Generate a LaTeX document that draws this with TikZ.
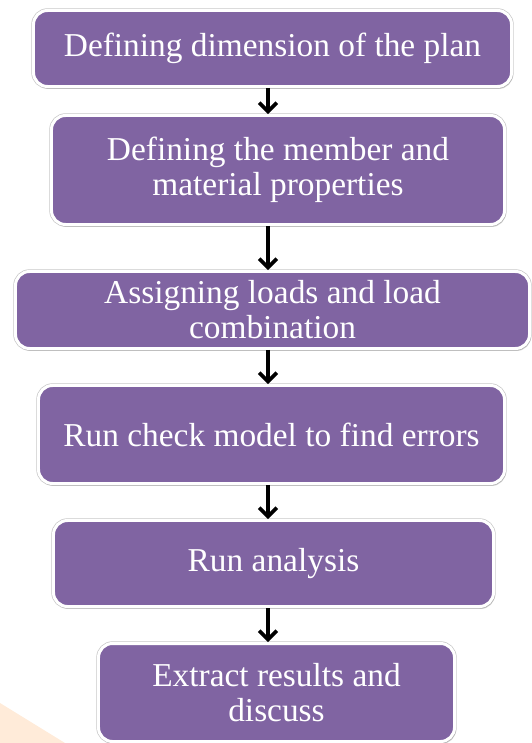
\documentclass[tikz,border=0pt]{standalone}
\usepackage{fontspec}
\setmainfont{Liberation Serif}
\usepackage{tikz}
\usetikzlibrary{shapes,arrows.meta,shadows,positioning,calc}

\definecolor{stagepurple}{RGB}{128,100,162}
\definecolor{peach}{RGB}{255,235,217}

\begin{document}
\begin{tikzpicture}[x=0.02cm, y=-0.02cm]
			\tikzstyle{Stage}	= [rectangle, rounded corners=8pt, fill=stagepurple, draw=white, line width=1.7pt,
			                   text=white, align=center, inner sep=0pt,
			                   font=\fontsize{19}{20}\selectfont,
			                   preaction={draw=black!22, line width=2.5pt},
			                   drop shadow={shadow xshift=0.8pt, shadow yshift=-1.4pt, opacity=0.3}]
			\tikzstyle{Flow}	= [line width=2.1pt, -{Straight Barb[length=5pt, width=10pt, line width=2.1pt]}]

			\useasboundingbox (0,0) rectangle (531,743);
			\fill [peach] (0,703) -- (65,743) -- (0,743) -- cycle;

			\node (s1) at (272.5, 48.5) [Stage, minimum width=478*0.02cm, minimum height=76*0.02cm] {Defining dimension of the plan};
			\node (s2) at (278, 170) [Stage, minimum width=453*0.02cm, minimum height=109*0.02cm] {Defining the member and\\material properties};
			\node (s3) at (272.5, 310) [Stage, minimum width=514*0.02cm, minimum height=77*0.02cm] {Assigning loads and load\\combination};
			\node (s4) at (271.5, 434.5) [Stage, minimum width=466*0.02cm, minimum height=98*0.02cm] {Run check model to find errors};
			\node (s5) at (273.5, 563.5) [Stage, minimum width=440*0.02cm, minimum height=86*0.02cm] {Run analysis};
			\node (s6) at (276.5, 692.5) [Stage, minimum width=356*0.02cm, minimum height=98*0.02cm] {Extract results and\\discuss};

			\coordinate (axis) at (268, 0);

			\draw [Flow] (s1.south -| axis) to (s2.north -| axis);
			\draw [Flow] (s2.south -| axis) to (s3.north -| axis);
			\draw [Flow] (s3.south -| axis) to (s4.north -| axis);
			\draw [Flow] (s4.south -| axis) to (s5.north -| axis);
			\draw [Flow] (s5.south -| axis) to (s6.north -| axis);
		\end{tikzpicture}
\end{document}
